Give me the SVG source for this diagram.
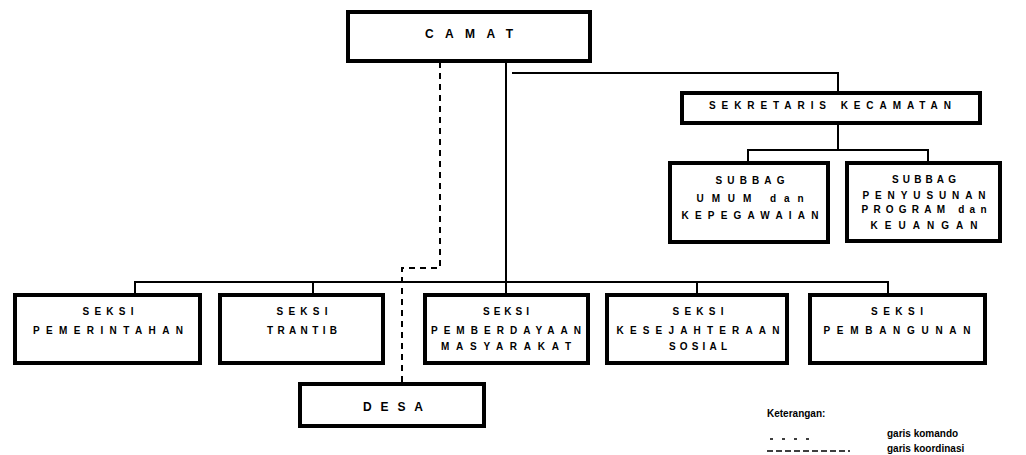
<svg xmlns="http://www.w3.org/2000/svg" width="1026" height="455" viewBox="0 0 1026 455">
<style>
.box{fill:#fff;stroke:#000;stroke-width:4}
.t{font-family:"Liberation Sans",Arial,sans-serif;font-weight:bold;font-size:10px;fill:#000;text-anchor:middle}
.big{font-size:12px}
.leg{font-family:"Liberation Sans",Arial,sans-serif;font-size:10px;fill:#000}
.ln{fill:none;stroke:#000;stroke-width:2}
.dash{fill:none;stroke:#000;stroke-width:2;stroke-dasharray:6 5}
</style>
<rect width="1026" height="455" fill="#fff"/>
<g id="connectors">
  <polyline class="ln" points="512,73 838,73 838,93"/>
  <line class="ln" x1="506" y1="62" x2="506" y2="295"/>
  <line class="ln" x1="838" y1="123" x2="838" y2="150"/>
  <polyline class="ln" points="748,163 748,150 928,150 928,163"/>
  <polyline class="ln" points="135,295 135,282 888,282 888,295"/>
  <line class="ln" x1="313" y1="282" x2="313" y2="295"/>
  <line class="ln" x1="697" y1="282" x2="697" y2="295"/>
  <polyline class="dash" points="440,62 440,268 402,268 402,384"/>
</g>
<g id="camat"><rect class="box" x="348" y="12" width="242" height="49"/><text class="t big" x="469" y="38" textLength="88" lengthAdjust="spacing">CAMAT</text></g>
<g id="sekretaris"><rect class="box" x="682" y="93" width="298" height="30"/><text class="t" x="830" y="109" textLength="242" lengthAdjust="spacing">SEKRETARIS KECAMATAN</text></g>
<g id="subbag-umum"><rect class="box" x="670" y="163" width="158" height="79"/>
  <text class="t" x="750" y="184" textLength="69" lengthAdjust="spacing">SUBBAG</text>
  <text class="t" x="750" y="202" textLength="107" lengthAdjust="spacing">UMUM dan</text>
  <text class="t" x="750" y="219" textLength="137" lengthAdjust="spacing">KEPEGAWAIAN</text></g>
<g id="subbag-program"><rect class="box" x="847" y="163" width="153" height="78"/>
  <text class="t" x="924" y="183" textLength="64" lengthAdjust="spacing">SUBBAG</text>
  <text class="t" x="924" y="199" textLength="123" lengthAdjust="spacing">PENYUSUNAN</text>
  <text class="t" x="924" y="213" textLength="125" lengthAdjust="spacing">PROGRAM dan</text>
  <text class="t" x="924" y="229" textLength="107" lengthAdjust="spacing">KEUANGAN</text></g>
<g id="seksi-pemerintahan"><rect class="box" x="15" y="295" width="185" height="68"/>
  <text class="t" x="108" y="315" textLength="51" lengthAdjust="spacing">SEKSI</text>
  <text class="t" x="108" y="334" textLength="150" lengthAdjust="spacing">PEMERINTAHAN</text></g>
<g id="seksi-trantib"><rect class="box" x="220" y="295" width="163" height="68"/>
  <text class="t" x="302" y="315" textLength="51" lengthAdjust="spacing">SEKSI</text>
  <text class="t" x="302" y="334" textLength="70" lengthAdjust="spacing">TRANTIB</text></g>
<g id="seksi-pemberdayaan"><rect class="box" x="425" y="295" width="163" height="68"/>
  <text class="t" x="506" y="315" textLength="46" lengthAdjust="spacing">SEKSI</text>
  <text class="t" x="506" y="334" textLength="150" lengthAdjust="spacing">PEMBERDAYAAN</text>
  <text class="t" x="506" y="350" textLength="130" lengthAdjust="spacing">MASYARAKAT</text></g>
<g id="seksi-kesejahteraan"><rect class="box" x="607" y="295" width="180" height="68"/>
  <text class="t" x="698" y="315" textLength="51" lengthAdjust="spacing">SEKSI</text>
  <text class="t" x="698" y="334" textLength="163" lengthAdjust="spacing">KESEJAHTERAAN</text>
  <text class="t" x="698" y="350" textLength="58" lengthAdjust="spacing">SOSIAL</text></g>
<g id="seksi-pembangunan"><rect class="box" x="810" y="295" width="175" height="68"/>
  <text class="t" x="897" y="315" textLength="52" lengthAdjust="spacing">SEKSI</text>
  <text class="t" x="897" y="334" textLength="147" lengthAdjust="spacing">PEMBANGUNAN</text></g>
<g id="desa"><rect class="box" x="300" y="384" width="184" height="42"/>
  <text class="t big" x="393" y="411" textLength="60" lengthAdjust="spacing">DESA</text></g>
<g id="legend">
  <text class="leg" x="767" y="417" font-weight="bold">Keterangan:</text>
  <line x1="770" y1="439" x2="810" y2="439" stroke="#000" stroke-width="1.5" stroke-dasharray="3 9"/>
  <line x1="767" y1="451" x2="850" y2="451" stroke="#000" stroke-width="1.5" stroke-dasharray="6 3"/>
  <text class="leg" x="887" y="437" font-weight="bold">garis komando</text>
  <text class="leg" x="887" y="452" font-weight="bold">garis koordinasi</text>
</g>
</svg>
